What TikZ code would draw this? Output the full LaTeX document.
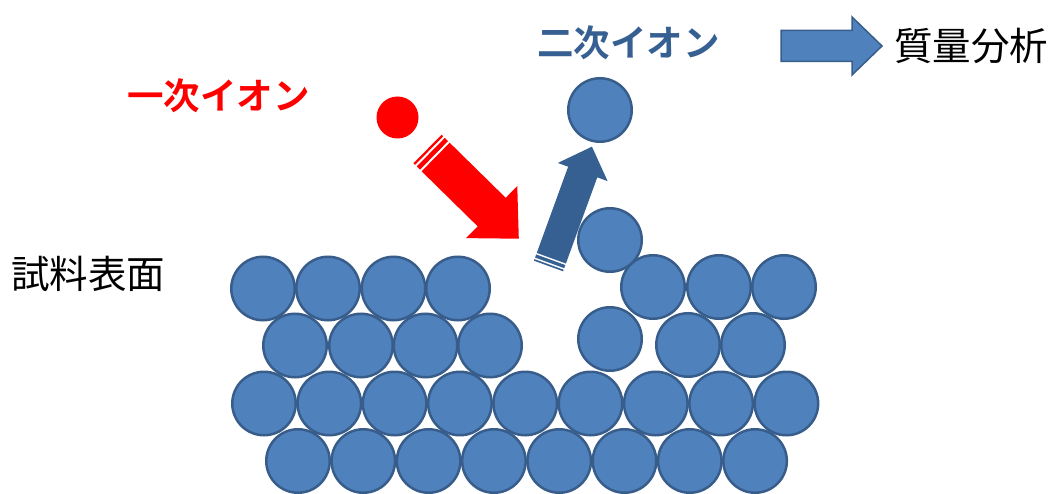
\documentclass[tikz,border=0pt]{standalone}
\usepackage{fontspec}
\newfontfamily\jp{Noto Sans CJK JP}[BoldFont={Noto Sans CJK JP Bold}]
\definecolor{atomfill}{RGB}{79,129,189}
\definecolor{atomline}{RGB}{56,93,138}
\definecolor{ionblue}{RGB}{54,96,146}
\tikzset{
  atom/.style={circle, fill=atomfill, draw=atomline, line width=2.5pt,
    minimum size=63.5pt, inner sep=0pt},
  lbl/.style={inner sep=0pt, font=\jp\fontsize{38.5}{41}\selectfont},
  ionlbl/.style={inner sep=0pt, font=\jp\bfseries\fontsize{36.5}{40}\selectfont},
  % striped block arrow along +x: length, head width, shaft width, head length, colour
  pics/stripedarrow/.style n args={5}{code={
    \pgfmathsetmacro\sa{#2/32}
    \fill[#5] (0,-#3/2) rectangle (\sa,#3/2);
    \fill[#5] (2*\sa,-#3/2) rectangle (4*\sa,#3/2);
    \fill[#5] (5*\sa,-#3/2) -- (#1-#4,-#3/2) -- (#1-#4,-#2/2) -- (#1,0)
      -- (#1-#4,#2/2) -- (#1-#4,#3/2) -- (5*\sa,#3/2) -- cycle;
  }}
}
\begin{document}
\begin{tikzpicture}[x=1pt,y=-1pt]
\useasboundingbox (0,0) rectangle (1051,494);

% sample surface: four close-packed rows
\foreach \i/\x in {1/263,2/328,3/393.5,4/458}
  \node[atom] (a1l\i) at (\x,288.5) {};
\foreach \i/\x in {1/653,2/719,3/784}
  \node[atom] (a1r\i) at (\x,287) {};
\foreach \i/\x in {1/295,2/361,3/425.5,4/490}
  \node[atom] (a2l\i) at (\x,345.5) {};
\node[atom] (a2loose) at (610,339) {};
\foreach \i/\x in {1/688,2/753}
  \node[atom] (a2r\i) at (\x,345) {};
\foreach \k in {0,...,8}
  \node[atom] (a3\k) at (264+65.3*\k,403.5) {};
\foreach \k in {0,...,7}
  \node[atom] (a4\k) at (298+65.3*\k,461) {};

% displaced and sputtered atoms
\node[atom] (adisp) at (610,240) {};
\node[atom] (secondary) at (600,110) {};

% incoming primary ion
\node[circle, fill=red, minimum size=42pt, inner sep=0pt] (primary) at (397.5,117.5) {};

% ion paths
\pic[rotate=-44.5] (inarrow) at (427.5,149) {stripedarrow={128}{73}{40}{38}{red}};
\pic[rotate=70] (outarrow) at (548.5,266) {stripedarrow={127}{53}{31}{27}{ionblue}};

% to mass analysis
\draw[fill=atomfill, draw=atomline, line width=1.5pt]
  (781,30.5) -- (852,30.5) -- (852,17) -- (882,46) -- (852,75) -- (852,61.5)
  -- (781,61.5) -- cycle;

% labels
\node[ionlbl, text=red] (tprimary) at (218.5,96) {一次イオン};
\node[ionlbl, text=ionblue] (tsecondary) at (628.5,43) {二次イオン};
\node[lbl] (tsurface) at (88,274) {試料表面};
\node[lbl] (tmass) at (971,46) {質量分析};
\end{tikzpicture}
\end{document}
